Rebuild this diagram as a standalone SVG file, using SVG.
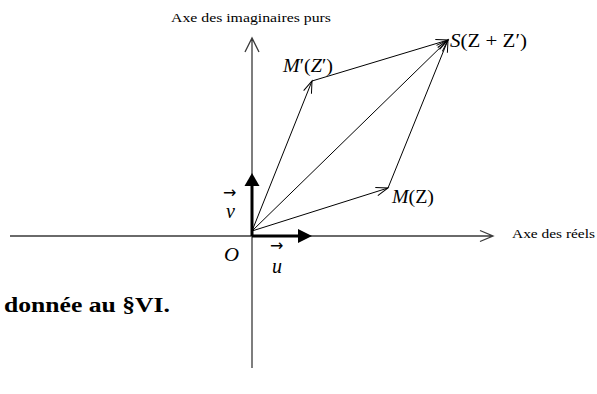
<svg xmlns="http://www.w3.org/2000/svg" width="597" height="394" viewBox="0 0 597 394">
<style>
.axis{stroke:#3a3a3a;stroke-width:1.3;fill:none}
.vec{stroke:#000;stroke-width:1;fill:none}
.unit{stroke:#000;stroke-width:3;fill:none}
.head{fill:#000;stroke:none}
.t{font-family:"Liberation Serif","Times New Roman",serif;fill:#000}
.lab{font-size:18px}
.ax{font-size:13.5px}
.it{font-style:italic}
.b{font-weight:bold;font-size:21px}
.vecarrow{font-family:"DejaVu Sans",sans-serif;font-size:16px;fill:#000}
</style>
<defs>
<marker id="open" markerUnits="userSpaceOnUse" markerWidth="14" markerHeight="10" refX="12" refY="5" orient="auto" overflow="visible">
<path d="M0,0.8 L12,5 L0,9.2" fill="none" stroke="#000" stroke-width="1"/>
</marker>
</defs>
<g id="axes">
<path class="axis" d="M10,236 H493 M480,230.5 L493,236 L480,241.5"/>
<path class="axis" d="M252,368 V38 M245,52 L252,38 L259,52"/>
</g>
<g id="connectors">
<line class="vec" x1="252" y1="231" x2="388" y2="188" marker-end="url(#open)"/>
<line class="vec" x1="252" y1="231" x2="312" y2="81" marker-end="url(#open)"/>
<line class="vec" x1="252" y1="231" x2="448" y2="40" marker-end="url(#open)"/>
<line class="vec" x1="388" y1="188" x2="448" y2="40" marker-end="url(#open)"/>
<line class="vec" x1="312" y1="81" x2="448" y2="40" marker-end="url(#open)"/>
</g>
<g id="unit-u">
<line class="unit" x1="252" y1="236" x2="299" y2="236"/>
<polygon class="head" points="298,229 312,236 298,243"/>
</g>
<g id="unit-v">
<line class="unit" x1="252" y1="236" x2="252" y2="185"/>
<polygon class="head" points="244.5,186 252,173 259.5,186"/>
</g>
<g id="labels">
<text class="t ax" x="171" y="22" textLength="160" lengthAdjust="spacingAndGlyphs">Axe des imaginaires purs</text>
<text class="t ax" x="512" y="238" textLength="83" lengthAdjust="spacingAndGlyphs">Axe des réels</text>
<text class="t lab" x="450" y="47" textLength="77" lengthAdjust="spacingAndGlyphs"><tspan class="it">S</tspan>(Z + Z′)</text>
<text class="t lab" x="283" y="72" textLength="50" lengthAdjust="spacingAndGlyphs"><tspan class="it">M</tspan>′(<tspan class="it">Z</tspan>′)</text>
<text class="t lab" x="392" y="203" textLength="42" lengthAdjust="spacingAndGlyphs"><tspan class="it">M</tspan>(Z)</text>
<text class="t lab it" x="224" y="261" textLength="15" lengthAdjust="spacingAndGlyphs">O</text>
<text class="t it" font-size="20" x="272" y="273">u</text>
<text class="vecarrow" x="270" y="251">→</text>
<text class="t it" font-size="20" x="226" y="218">v</text>
<text class="vecarrow" x="223" y="198">→</text>
<text class="t b" x="4" y="312" textLength="166" lengthAdjust="spacingAndGlyphs">donnée au §VI.</text>
</g>
</svg>
